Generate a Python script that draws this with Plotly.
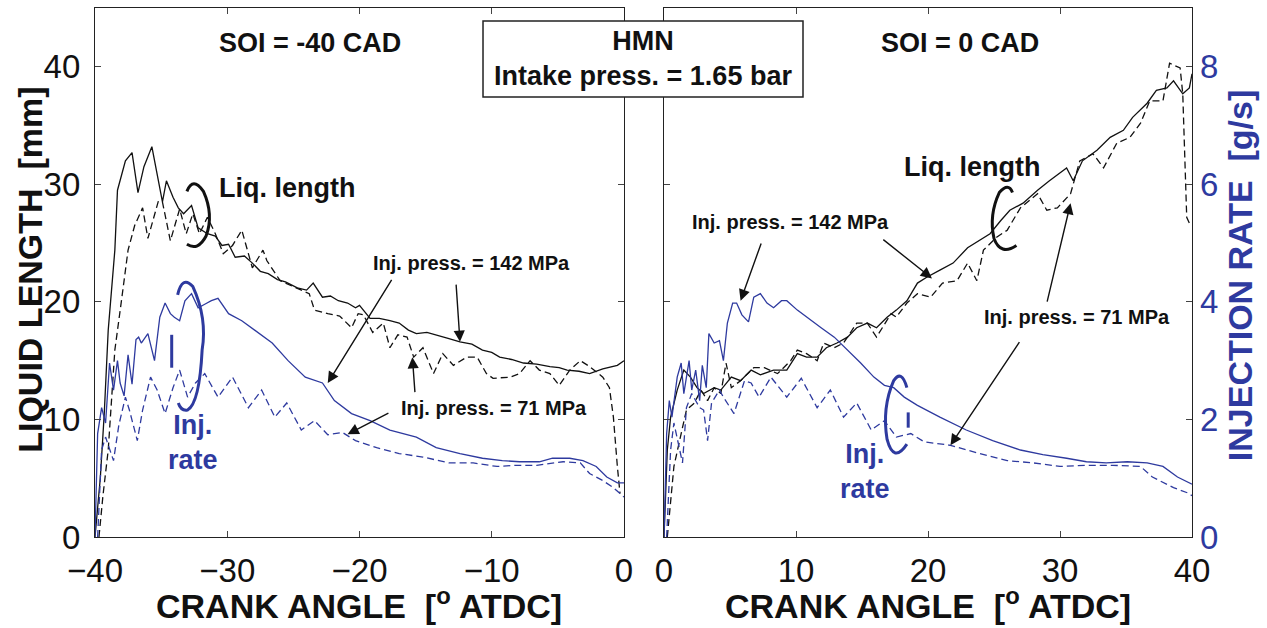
import plotly.graph_objects as go

# ---------------- data ----------------
# SOI = -40 CAD : liquid length [mm]
ll142_a_x = [-40.0, -39.6, -39.3, -39.0, -38.5, -38.3, -37.7, -37.2, -36.75, -36.3, -35.7, -35.3, -34.9, -34.6,
             -34.1, -33.7, -33.3, -32.7, -32.2, -31.5, -30.9, -30.4, -29.9, -29.4, -28.7, -28.1, -27.5, -26.9,
             -26.2, -25.6, -24.7, -24.0, -23.5, -22.8, -22.2, -21.6, -20.9, -20.3, -20.0, -19.2, -18.5, -17.7,
             -17.0, -16.3, -15.7, -14.9, -14.2, -13.3, -12.4, -11.5, -10.7, -10.0, -9.4, -8.5, -7.6, -6.6,
             -5.6, -4.9, -4.3, -3.4, -2.6, -1.6, -0.5, 0.0]
ll142_a_y = [0.0, 5.0, 10.5, 17.6, 24.4, 29.5, 32.0, 32.7, 29.3, 31.5, 33.2, 31.0, 28.5, 30.3,
             28.9, 28.0, 27.5, 28.2, 26.3, 25.8, 25.6, 24.8, 24.9, 23.8, 23.9, 23.3, 22.6, 22.4,
             21.9, 21.7, 21.2, 21.0, 21.6, 20.4, 20.5, 20.1, 19.9, 19.5, 19.7, 18.6, 18.6, 18.4,
             18.2, 17.6, 17.3, 17.4, 17.2, 16.9, 16.6, 16.4, 15.9, 15.7, 15.3, 15.1, 14.8, 14.7,
             14.5, 14.4, 14.2, 14.1, 13.9, 14.3, 14.6, 15.0]

ll71_a_x = [-39.7, -39.4, -39.0, -38.5, -38.0, -37.5, -37.0, -36.4, -36.0, -35.2, -34.9, -34.3, -33.6, -33.1,
            -32.6, -32.1, -31.5, -30.9, -30.3, -29.6, -28.9, -28.1, -27.3, -27.0, -26.0, -25.2, -24.3, -23.8,
            -23.4, -22.4, -21.5, -20.6, -20.1, -19.7, -19.0, -18.2, -17.7, -17.1, -16.4, -15.9, -15.2, -14.4,
            -13.7, -12.9, -11.9, -11.1, -10.4, -9.9, -8.6, -7.9, -7.1, -6.4, -5.6, -4.9, -4.1, -3.3,
            -2.6, -1.6, -1.1, -0.8, -0.5, -0.3]
ll71_a_y = [0.0, 3.5, 7.4, 15.9, 20.1, 24.4, 26.5, 28.0, 25.4, 28.6, 28.5, 25.2, 27.9, 25.8,
            27.5, 25.8, 27.2, 25.8, 24.1, 24.8, 26.1, 22.9, 24.4, 23.5, 21.8, 21.4, 21.0, 20.7,
            19.3, 19.0, 18.8, 17.8, 19.0, 18.9, 17.4, 18.2, 16.1, 17.2, 17.0, 15.3, 16.1, 13.9,
            15.6, 14.6, 15.3, 15.3, 13.9, 13.5, 13.6, 13.9, 15.0, 14.2, 13.9, 12.9, 14.2, 15.0,
            14.5, 13.6, 12.7, 10.2, 6.0, 3.7]

# SOI = -40 CAD : injection rate [g/s]
ir142_a_x = [-40.0, -39.8, -39.5, -39.2, -38.9, -38.6, -38.3, -38.1, -37.8, -37.5, -37.2, -36.9, -36.7, -36.5,
             -36.0, -35.5, -35.1, -34.7, -34.3, -34.0, -33.6, -33.2, -32.7, -32.2, -31.7, -31.2, -30.7, -29.9,
             -28.9, -27.9, -26.6, -25.4, -24.1, -22.8, -21.9, -20.6, -19.2, -17.7, -15.7, -14.2, -12.4, -10.7,
             -9.2, -7.9, -6.4, -5.4, -4.1, -3.1, -2.1, -1.3, -0.5, 0.0]
ir142_a_y = [0.0, 1.76, 2.2, 1.94, 2.96, 2.5, 3.0, 2.62, 2.4, 3.1, 2.6, 3.36, 3.4, 3.3,
             3.46, 3.0, 3.74, 3.98, 3.8, 3.74, 3.68, 4.02, 4.14, 3.9, 3.96, 4.02, 4.06, 3.8,
             3.68, 3.52, 3.3, 3.0, 2.72, 2.62, 2.32, 2.1, 1.98, 1.82, 1.7, 1.52, 1.42, 1.34,
             1.3, 1.28, 1.28, 1.34, 1.34, 1.3, 1.2, 1.02, 0.92, 0.92]

ir71_a_x = [-39.8, -39.5, -39.2, -38.9, -38.6, -38.2, -37.7, -37.4, -36.8, -36.4, -35.8, -35.3, -34.7, -34.1,
            -33.6, -33.0, -32.4, -31.7, -30.7, -29.6, -28.4, -27.4, -26.4, -25.5, -24.4, -23.4, -22.4, -21.3,
            -20.3, -18.7, -17.0, -15.2, -13.2, -11.4, -9.6, -8.1, -6.6, -4.6, -3.3, -2.6, -1.6, -0.8, -0.3, 0.0]
ir71_a_y = [0.0, 1.48, 1.7, 1.48, 1.3, 1.9, 2.38, 2.16, 1.64, 2.16, 2.72, 2.5, 2.1, 2.54,
            2.84, 2.38, 2.62, 2.78, 2.38, 2.72, 2.2, 2.5, 2.04, 2.28, 1.82, 1.98, 1.74, 1.78,
            1.64, 1.52, 1.42, 1.36, 1.26, 1.26, 1.2, 1.22, 1.22, 1.28, 1.26, 1.08, 0.96, 0.84, 0.74, 0.68]

# SOI = 0 CAD : liquid length [mm]
ll142_b_x = [0.0, 0.25, 0.5, 1.0, 1.5, 2.0, 2.5, 3.0, 3.8, 4.3, 5.1, 5.8, 6.6, 7.3, 8.3, 9.3, 10.1, 10.8,
             11.6, 12.3, 13.1, 13.9, 14.6, 15.4, 16.1, 16.9, 17.6, 18.4, 19.2, 19.9, 20.9, 21.9, 23.0, 23.9,
             24.7, 25.5, 26.2, 27.2, 28.3, 29.2, 30.5, 31.0, 31.7, 32.8, 33.8, 34.8, 35.5, 36.6, 37.3, 38.1,
             38.6, 39.3, 39.8, 40.0]
ll142_b_y = [0.0, 7.4, 10.2, 12.5, 14.2, 13.6, 12.7, 12.2, 12.7, 12.5, 13.6, 13.3, 14.2, 13.8, 14.2, 14.2, 15.6, 15.3,
             15.3, 16.1, 16.5, 17.0, 17.8, 18.2, 17.8, 18.7, 19.3, 20.1, 21.6, 22.1, 22.7, 23.3, 24.6, 25.2,
             25.8, 26.9, 27.8, 28.4, 29.5, 30.3, 31.4, 30.3, 32.0, 32.9, 34.0, 34.6, 35.7, 36.9, 38.0, 38.2,
             38.8, 37.7, 38.2, 39.4]

ll71_b_x = [0.25, 0.75, 1.3, 1.7, 2.3, 2.8, 3.3, 3.8, 4.3, 4.7, 5.1, 5.8, 6.8, 7.6, 8.6, 9.6, 10.1, 10.8,
            11.6, 12.1, 12.9, 13.6, 14.6, 15.4, 16.1, 17.2, 17.6, 18.4, 19.2, 20.2, 21.1, 22.2, 23.0, 23.7,
            24.2, 25.2, 26.0, 27.0, 28.3, 29.0, 29.8, 30.8, 31.5, 32.5, 33.3, 34.3, 35.3, 36.1, 36.8, 37.8,
            38.3, 39.1, 39.3, 39.5, 39.6, 39.8]
ll71_b_y = [0.0, 6.0, 8.8, 10.8, 11.4, 12.5, 11.6, 12.7, 12.2, 14.8, 12.7, 13.3, 14.4, 14.4, 13.9, 15.0, 15.9, 15.6,
            15.0, 16.5, 16.1, 16.5, 18.2, 18.2, 17.0, 19.0, 18.7, 19.9, 20.7, 20.4, 21.6, 21.8, 23.3, 21.8,
            24.4, 25.5, 26.1, 28.0, 29.2, 27.8, 28.0, 29.2, 32.0, 32.6, 31.4, 33.5, 34.0, 35.2, 37.1, 37.1,
            40.3, 39.9, 37.7, 30.1, 27.2, 26.7]

# SOI = 0 CAD : injection rate [g/s]
ir142_b_x = [0.0, 0.2, 0.4, 0.6, 1.0, 1.3, 1.5, 1.9, 2.1, 2.4, 2.7, 2.9, 3.2, 3.4, 3.8, 4.2, 4.5, 4.8,
             5.2, 5.5, 5.9, 6.4, 6.8, 7.3, 7.8, 8.3, 8.9, 9.3, 10.1, 10.8, 11.9, 12.9, 13.9, 14.9, 15.9, 16.7,
             17.4, 18.2, 19.2, 20.2, 20.9, 22.9, 24.9, 27.0, 28.7, 30.5, 32.0, 33.5, 35.1, 36.6, 37.8, 38.9,
             39.8, 40.0]
ir142_b_y = [0.0, 1.76, 2.32, 2.04, 2.72, 2.96, 2.44, 3.0, 2.5, 2.84, 2.32, 2.92, 2.54, 3.46, 3.3, 3.34, 3.0, 3.64,
             3.98, 3.98, 3.78, 3.66, 4.08, 4.14, 3.98, 3.9, 4.02, 4.02, 3.86, 3.74, 3.56, 3.4, 3.18, 2.96, 2.72, 2.58,
             2.54, 2.38, 2.24, 2.12, 2.04, 1.82, 1.64, 1.48, 1.4, 1.34, 1.28, 1.26, 1.28, 1.26, 1.2, 1.02,
             0.92, 0.9]

ir71_b_x = [0.2, 0.5, 0.75, 1.1, 1.4, 1.7, 2.1, 2.7, 3.0, 3.3, 3.6, 4.2, 4.5, 5.3, 6.1, 6.6, 7.2, 8.1, 9.3,
            10.4, 11.6, 12.6, 13.6, 14.6, 15.7, 16.7, 17.6, 18.7, 19.7, 21.7, 23.9, 26.0, 28.0, 30.0, 32.0,
            34.0, 36.1, 37.0, 38.6, 39.8, 40.0]
ir71_b_y = [0.0, 1.48, 1.94, 1.6, 1.26, 2.2, 2.44, 2.2, 2.16, 1.64, 2.28, 2.5, 2.38, 2.1, 2.66, 2.62, 2.38, 2.72, 2.38,
            2.7, 2.2, 2.5, 2.04, 2.28, 1.82, 1.98, 1.7, 1.76, 1.62, 1.56, 1.42, 1.3, 1.26, 1.2, 1.22,
            1.22, 1.2, 1.02, 0.84, 0.74, 0.7]

x_ticks_a = [-40, -30, -20, -10, 0]
x_ticks_b = [0, 10, 20, 30, 40]
ll_ticks = [0, 10, 20, 30, 40]
ir_ticks = [0, 2, 4, 6, 8]

# ---------------- styling ----------------
BLACK = "#111111"
BLUE = "#2E3A9F"
FONT = "Liberation Sans, Arial, Helvetica, sans-serif"
LW = 1.3
DASH = "7px,4px"
TICK_SIZE = 33

fig = go.Figure()

def add_line(x, y, xa, ya, color, dash):
    fig.add_trace(go.Scatter(x=x, y=y, xaxis=xa, yaxis=ya, mode="lines",
                             line=dict(color=color, width=LW, dash=dash),
                             showlegend=False, hoverinfo="skip"))

# left panel
add_line(ll71_a_x, ll71_a_y, "x", "y", BLACK, DASH)
add_line(ll142_a_x, ll142_a_y, "x", "y", BLACK, "solid")
add_line(ir71_a_x, ir71_a_y, "x", "y2", BLUE, DASH)
add_line(ir142_a_x, ir142_a_y, "x", "y2", BLUE, "solid")
# right panel
add_line(ll71_b_x, ll71_b_y, "x2", "y3", BLACK, DASH)
add_line(ll142_b_x, ll142_b_y, "x2", "y3", BLACK, "solid")
add_line(ir71_b_x, ir71_b_y, "x2", "y4", BLUE, DASH)
add_line(ir142_b_x, ir142_b_y, "x2", "y4", BLUE, "solid")

axis_common = dict(showline=True, linecolor="#222", linewidth=1.2, mirror="ticks",
                   ticks="inside", ticklen=6, tickcolor="#444", tickwidth=1,
                   showgrid=False, zeroline=False,
                   tickfont=dict(family=FONT, size=TICK_SIZE, color=BLACK))

fig.update_layout(
    width=1267, height=628,
    margin=dict(l=95, r=75, t=8, b=91),
    paper_bgcolor="white", plot_bgcolor="white",
    font=dict(family=FONT, color=BLACK),
    xaxis=dict(domain=[0, 0.4822], range=[-40, 0], tickvals=x_ticks_a, anchor="y",
               ticklabelstandoff=4, **axis_common),
    yaxis=dict(domain=[0, 1], range=[0, 45], tickvals=ll_ticks, anchor="x",
               ticklabelstandoff=7, **axis_common),
    yaxis2=dict(range=[0, 9], overlaying="y", anchor="x", visible=False),
    xaxis2=dict(domain=[0.5187, 1], range=[0, 40], tickvals=x_ticks_b, anchor="y3",
                ticklabelstandoff=4, **axis_common),
    yaxis3=dict(domain=[0, 1], range=[0, 45], tickvals=ll_ticks, anchor="x2",
                showticklabels=False, **axis_common),
    yaxis4=dict(range=[0, 9], overlaying="y3", anchor="x2", side="right",
                tickvals=ir_ticks, showline=False, ticks="", showgrid=False, zeroline=False,
                ticklabelstandoff=7,
                tickfont=dict(family=FONT, size=TICK_SIZE, color=BLUE)),
)

ann = []
def text(x, y, s, xref, yref, size, color=BLACK, bold=True, **kw):
    opts = dict(xanchor="center", yanchor="middle")
    opts.update(kw)
    ann.append(dict(x=x, y=y, xref=xref, yref=yref, text=(f"<b>{s}</b>" if bold else s),
                    showarrow=False, font=dict(family=FONT, size=size, color=color), **opts))

def arrow(x0, y0, x1, y1, xref, yref):
    ann.append(dict(x=x1, y=y1, ax=x0, ay=y0, xref=xref, yref=yref, axref=xref, ayref=yref,
                    text="", showarrow=True, arrowhead=2, arrowsize=1.6, arrowwidth=1.4,
                    arrowcolor=BLACK))

# axis titles
text(0.5 * 0.4822, -0.1248, "CRANK ANGLE  [<sup>o</sup> ATDC]", "paper", "paper", 34)
text((0.5187 + 1) / 2, -0.1248, "CRANK ANGLE  [<sup>o</sup> ATDC]", "paper", "paper", 34)
text(-0.0593, 0.505, "LIQUID LENGTH  [mm]", "paper", "paper", 34, textangle=-90)
text(1.0438, 0.495, "INJECTION RATE  [g/s]", "paper", "paper", 34, color=BLUE, textangle=-90)

# left panel labels
text(-23.75, 42.0, "SOI = -40 CAD", "x", "y", 27)
text(-25.5, 29.7, "Liq. length", "x", "y", 27)
text(-11.5, 23.3, "Inj. press. = 142 MPa", "x", "y", 20)
text(-9.8, 11.0, "Inj. press. = 71 MPa", "x", "y", 20)
text(-32.6, 8.0, "Inj.<br>rate", "x", "y", 27, color=BLUE)
arrow(-17.5, 22.0, -22.4, 13.1, "x", "y")
arrow(-12.7, 21.6, -12.4, 16.6, "x", "y")
arrow(-17.7, 10.6, -20.9, 8.75, "x", "y")
arrow(-15.8, 12.2, -16.0, 15.3, "x", "y")

# right panel labels
text(22.4, 42.0, "SOI = 0 CAD", "x2", "y3", 27)
text(23.3, 31.5, "Liq. length", "x2", "y3", 27)
text(9.6, 26.8, "Inj. press. = 142 MPa", "x2", "y3", 20)
text(31.3, 18.7, "Inj. press. = 71 MPa", "x2", "y3", 20)
text(15.2, 5.6, "Inj.<br>rate", "x2", "y3", 27, color=BLUE)
arrow(7.4, 25.1, 5.8, 20.1, "x2", "y3")
arrow(16.5, 25.4, 20.3, 22.0, "x2", "y3")
arrow(29.0, 19.9, 30.8, 28.4, "x2", "y3")
arrow(27.0, 16.7, 21.7, 7.8, "x2", "y3")

# title box
text(0.4995, 0.9036, "HMN<br>Intake press. = 1.65 bar", "paper", "paper", 27)

fig.update_layout(annotations=ann)

shapes = [
    dict(type="rect", xref="paper", yref="paper", x0=0.3537, x1=0.6454, y0=0.8318, y1=0.9754,
         line=dict(color="#222", width=1.5), fillcolor="white", layer="above"),
    # grouping brackets
    dict(type="path", xref="x", yref="y",
         path="M -33.05,29.4 Q -32.6,30.7 -31.8,29.4 Q -31.0,27.4 -31.6,25.6 Q -32.2,24.3 -33.05,24.9",
         line=dict(color=BLACK, width=3)),
    dict(type="path", xref="x", yref="y",
         path="M -33.75,20.6 Q -33.4,22.3 -32.6,21.3 Q -31.5,18.6 -31.9,15.9 Q -32.1,11.4 -33.0,10.8 Q -33.5,10.7 -33.7,11.4",
         line=dict(color=BLUE, width=3)),
    dict(type="line", xref="x", yref="y", x0=-34.2, x1=-34.2, y0=14.4, y1=17.2,
         line=dict(color=BLUE, width=3)),
    dict(type="path", xref="x2", yref="y3",
         path="M 26.4,29.3 Q 26.1,30.2 25.4,29.3 Q 24.6,27.4 25.0,25.4 Q 25.5,23.9 26.7,24.8",
         line=dict(color=BLACK, width=3)),
    dict(type="path", xref="x2", yref="y3",
         path="M 18.4,12.7 Q 18.0,14.3 17.4,13.3 Q 16.5,11.0 16.9,8.3 Q 17.4,6.2 18.4,7.9",
         line=dict(color=BLUE, width=3)),
    dict(type="line", xref="x2", yref="y3", x0=18.5, x1=18.5, y0=9.3, y1=10.6,
         line=dict(color=BLUE, width=3)),
]
fig.update_layout(shapes=shapes)

fig.write_html("out.html", config={"displayModeBar": False})
